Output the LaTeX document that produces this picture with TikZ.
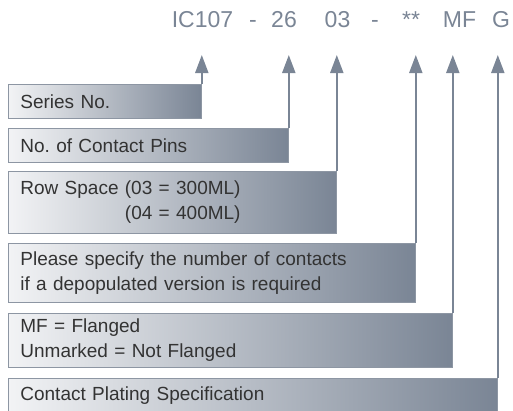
\documentclass[tikz,border=0pt]{standalone}
\usepackage{fontspec}
\setmainfont{Liberation Sans}
\usetikzlibrary{arrows.meta,positioning,calc}
\frenchspacing
\definecolor{cS}{HTML}{7a8595}
\definecolor{cL}{HTML}{f2f3f5}
\definecolor{cB}{HTML}{8d96a3}
\definecolor{cT}{HTML}{333333}
\tikzset{
  code/.style={anchor=base,text=cS,inner sep=0pt,
               font=\fontsize{23}{23}\selectfont},
  specbox/.style={anchor=north west,draw=cB,line width=0.8pt,
               left color=cL,right color=cS,text=cT,align=left,
               inner xsep=12pt,inner ysep=0pt,
               font=\fontsize{19}{25}\selectfont},
  tiparrow/.style={-{Triangle[length=18pt,width=13pt]},line width=2pt,cS},
}

\begin{document}
\begin{tikzpicture}[x=1pt,y=1pt]
  \useasboundingbox (0,0) rectangle (513,-410);
  % part number
  \node[code] (series code) at (202.5,-27) {IC107};
  \node[code] (dash1) at (253,-27) {-};
  \node[code] (pins code) at (284,-27) {26};
  \node[code] (row code) at (337.5,-27) {03};
  \node[code] (dash2) at (375,-27) {-};
  \node[code] (depop code) at (411,-27) {**};
  \node[code] (flange code) at (459.5,-27) {MF};
  \node[code] (plating code) at (501,-27) {G};
  \coordinate (tipline) at (0,-55);
  % explanations
  \node[specbox,text width=169pt,minimum height=34pt] (series) at (8,-84)
     {Series No.};
  \node[specbox,text width=256pt,minimum height=34pt] (pins) at (8,-128)
     {No. of Contact Pins};
  \node[specbox,text width=304pt,minimum height=62pt] (row) at (8,-171)
     {Row Space (03 = 300ML)\\\hphantom{Row Space }(04 = 400ML)};
  \node[specbox,text width=383pt,minimum height=59pt] (depop) at (8,-243)
     {Please specify the number of contacts\\if a depopulated version is required};
  \node[specbox,text width=420pt,minimum height=54pt] (flange) at (8,-313)
     {MF = Flanged\\Unmarked = Not Flanged};
  \node[specbox,text width=465pt,minimum height=34pt] (plating) at (8,-378)
     {Contact Plating Specification};
  \foreach \b in {series,pins,row,depop,flange,plating}
    \draw[tiparrow] (\b.north east) -- (\b.north east |- tipline);
\end{tikzpicture}
\end{document}
